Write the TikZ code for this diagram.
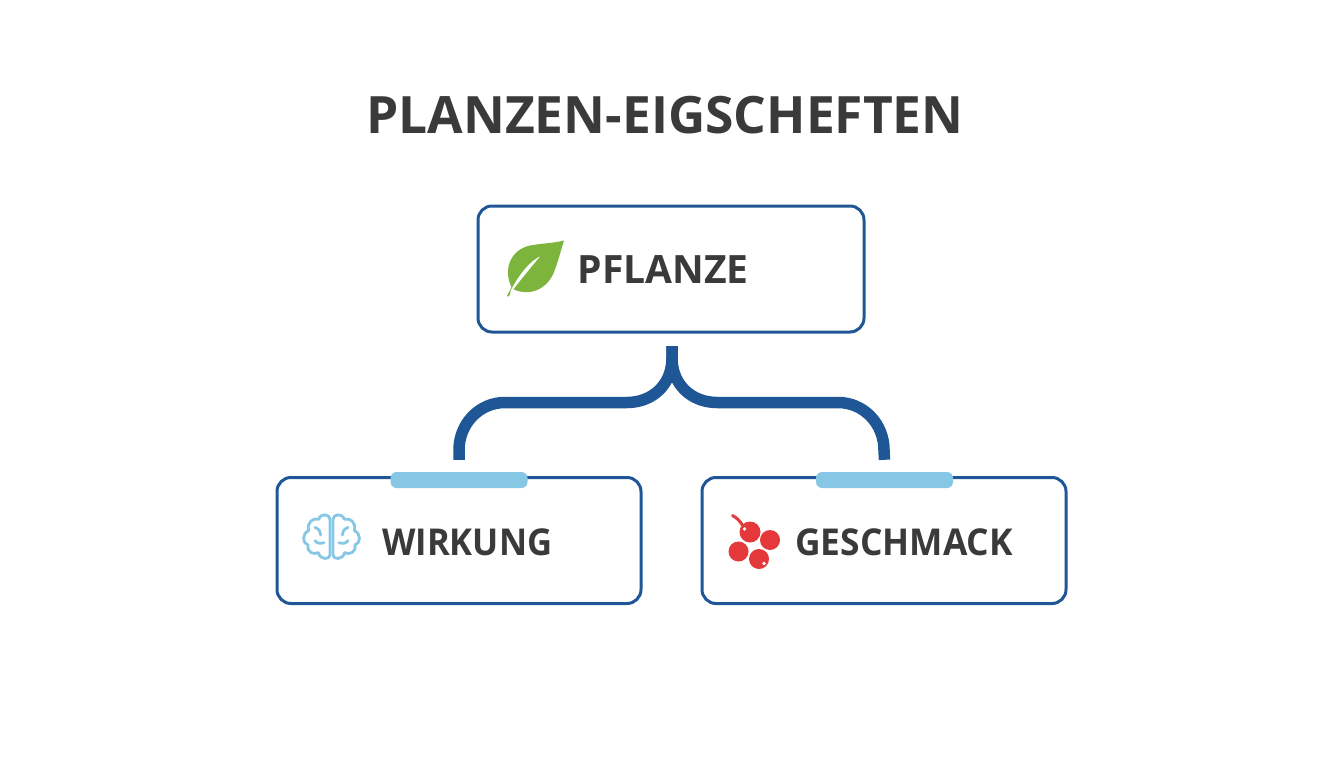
\documentclass[tikz,border=0pt]{standalone}
\usepackage{fontspec}
\setmainfont{Open Sans}
\definecolor{boxblue}{HTML}{1F5796}
\definecolor{pillblue}{HTML}{87C7E6}
\definecolor{ink}{HTML}{3A3A3A}
\definecolor{leaf}{HTML}{7DB53C}
\definecolor{berry}{HTML}{E5383B}
\tikzset{
  card/.style={draw=boxblue,line width=3pt,rounded corners=14pt,fill=white,inner sep=0pt,minimum width=#1,minimum height=126pt},
  pill/.style={fill=pillblue,rounded corners=6pt,inner sep=0pt,minimum width=137pt,minimum height=16pt},
  label/.style={anchor=base west,inner sep=0pt,text=ink,font=\fontsize{37}{37}\selectfont\bfseries},
  toplabel/.style={anchor=base west,inner sep=0pt,text=ink,font=\fontsize{39}{39}\selectfont\bfseries},
  titletext/.style={anchor=base,inner sep=0pt,text=ink,font=\fontsize{51.5}{52}\selectfont\bfseries},
  link/.style={draw=boxblue,line width=11.5pt},
  brainline/.style={draw=pillblue,line width=2.8pt,line join=round,line cap=round}
}
\begin{document}
\begin{tikzpicture}[x=1pt,y=-1pt]
\useasboundingbox (0,0) rectangle (1344,768);
\node[titletext] (title) at (665,133) {PLANZEN-EIGSCHEFTEN};
\node[card=386pt] (top) at (671,269) {};
\node[card=364pt] (left) at (459,540.5) {};
\node[card=364pt] (right) at (884,540.5) {};
\node[pill] (pillL) at (459,480) {};
\node[pill] (pillR) at (884.5,480) {};
\node[toplabel] (t1) at (577.5,283.5) {PFLANZE};
\node[label] (t2) at (382,555.5) {\scalebox{.935}[1]{WIRKUNG}};
\node[label] (t3) at (795,555.5) {\scalebox{.956}[1]{GESCHMACK}};
\coordinate (stem) at (672,346);
\coordinate (endL) at ([yshift=12pt]pillL.north);
\coordinate (endR) at ([yshift=12pt]pillR.north);
\draw[link] (endL) -- (459,450) .. controls (459,424) and (479,402.5) .. (505,402.5) -- (627,402.5) .. controls (652,402.5) and (672,385) .. (672,358) -- (stem);
\draw[link] (endR) -- (884,450) .. controls (884,424) and (864,402.5) .. (838,402.5) -- (717,402.5) .. controls (692,402.5) and (672,385) .. (672,358) -- (stem);
% leaf
\fill[leaf] (507,296) -- (511.5,287) .. controls (503,270) and (510,250) .. (530,245.5) .. controls (545,243) and (555,243) .. (564,240.5) .. controls (561,250) and (558,262) .. (554,272) .. controls (548,288) and (530,298) .. (512,288.5) -- (509,296.5) -- cycle;
\fill[white] (510,292) .. controls (520,272) and (532,260) .. (540,256.5) .. controls (532,266) and (522,278) .. (512,291) -- cycle;
% brain
\begin{scope}[shift={(290,500)},x=0.3333pt,y=-0.3333pt]
\draw[brainline] (120,165) -- (120,58) .. controls (120,42) and (92,38) .. (86,58) .. controls (68,52) and (50,68) .. (56,92) .. controls (36,100) and (36,130) .. (54,135) .. controls (50,158) and (72,165) .. (85,158) .. controls (90,180) and (120,180) .. (120,165);
\draw[brainline] (75,82) .. controls (88,88) and (92,95) .. (92,105);
\draw[brainline] (75,122) .. controls (80,130) and (92,132) .. (102,128);
\end{scope}
\begin{scope}[shift={(373,500)},x=-0.3333pt,y=-0.3333pt]
\draw[brainline] (120,165) -- (120,58) .. controls (120,42) and (92,38) .. (86,58) .. controls (68,52) and (50,68) .. (56,92) .. controls (36,100) and (36,130) .. (54,135) .. controls (50,158) and (72,165) .. (85,158) .. controls (90,180) and (120,180) .. (120,165);
\draw[brainline] (75,82) .. controls (88,88) and (92,95) .. (92,105);
\draw[brainline] (75,122) .. controls (80,130) and (92,132) .. (102,128);
\end{scope}
% berries
\draw[berry,line width=3pt,line cap=round] (732.5,515.5) .. controls (737,518) and (740,521) .. (743,526);
\fill[berry] (750,532) circle[radius=10.5];
\fill[berry] (770,540) circle[radius=10];
\fill[berry] (738.5,551.5) circle[radius=10];
\fill[berry] (759,559) circle[radius=10];
\fill[white] (744.5,529) circle[radius=1.8];
\fill[white] (764,563.5) circle[radius=1.8];
\end{tikzpicture}
\end{document}
